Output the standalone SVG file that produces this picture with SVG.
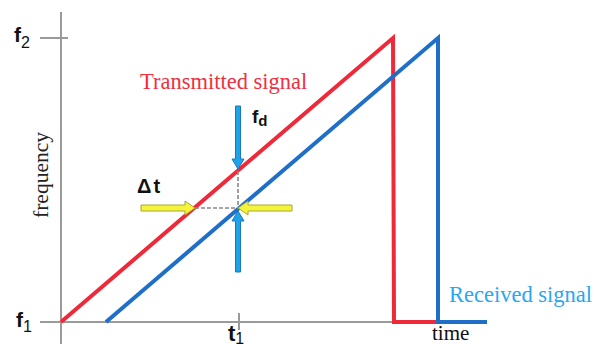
<svg xmlns="http://www.w3.org/2000/svg" width="608" height="344" viewBox="0 0 608 344">
<style>
.axis{stroke:#9a9a9a;stroke-width:2;fill:none}
.tx{stroke:#ee2a3a;stroke-width:4;fill:none;stroke-linejoin:miter}
.rx{stroke:#1f6fc9;stroke-width:4;fill:none;stroke-linejoin:miter}
.dash{stroke:#888;stroke-width:1.6;stroke-dasharray:4 2;fill:none}
.barr{fill:#1fa3e8;stroke:#1a78b8;stroke-width:1}
.yarr{fill:#f4f43a;stroke:#a8a832;stroke-width:1}
.serif{font-family:"Liberation Serif","Times New Roman",serif}
.lbl{font-family:"Liberation Sans",Arial,sans-serif;font-weight:bold;fill:#111}
</style>
<rect width="608" height="344" fill="#fff"/>
<g id="axes">
<line class="axis" x1="61" y1="12" x2="61" y2="344"/>
<line class="axis" x1="40" y1="322" x2="395" y2="322"/>
<line class="axis" x1="40" y1="38" x2="68" y2="38"/>
<line class="axis" x1="239" y1="313" x2="239" y2="330"/>
</g>
<g id="connectors">
<polyline class="tx" points="61,322 393,38 394,322 460,322"/>
<polyline class="rx" points="106,322 438,38 438,322 487,322"/>
<line class="dash" x1="195" y1="208" x2="238" y2="208"/>
<line class="dash" x1="238" y1="171" x2="238" y2="208"/>
</g>
<g id="fd-arrows">
<polygon class="barr" points="235.5,106 240.5,106 240.5,159 244,159 238,169 232,159 235.5,159"/>
<polygon class="barr" points="235.5,272 240.5,272 240.5,221 244,221 238,211 232,221 235.5,221"/>
</g>
<g id="dt-arrows">
<polygon class="yarr" points="141,205 185,205 185,201 195,208 185,215 185,211 141,211"/>
<polygon class="yarr" points="292,205 248,205 248,201 238,208 248,215 248,211 292,211"/>
</g>
<g id="labels">
<text class="serif" x="140" y="89" font-size="22.5" fill="#f02f3f">Transmitted signal</text>
<text class="serif" x="449" y="302" font-size="22.5" fill="#2aa6f2">Received signal</text>
<text class="serif" x="432" y="340" font-size="21" fill="#111">time</text>
<text class="serif" x="0" y="0" font-size="21.5" fill="#222" text-anchor="middle" transform="translate(48,175) rotate(-90)">frequency</text>
<text class="lbl" x="14" y="42" font-size="21">f<tspan font-size="16" dy="6" font-weight="normal">2</tspan></text>
<text class="lbl" x="16" y="327" font-size="21">f<tspan font-size="16" dy="5" font-weight="normal">1</tspan></text>
<text class="lbl" x="252" y="123" font-size="19">f<tspan font-size="15" dy="3">d</tspan></text>
<text class="lbl" x="137" y="193" font-size="20">Δ<tspan dx="2">t</tspan></text>
<text class="lbl" x="228" y="341" font-size="22">t<tspan font-size="16" dy="3" font-weight="normal">1</tspan></text>
</g>
</svg>
